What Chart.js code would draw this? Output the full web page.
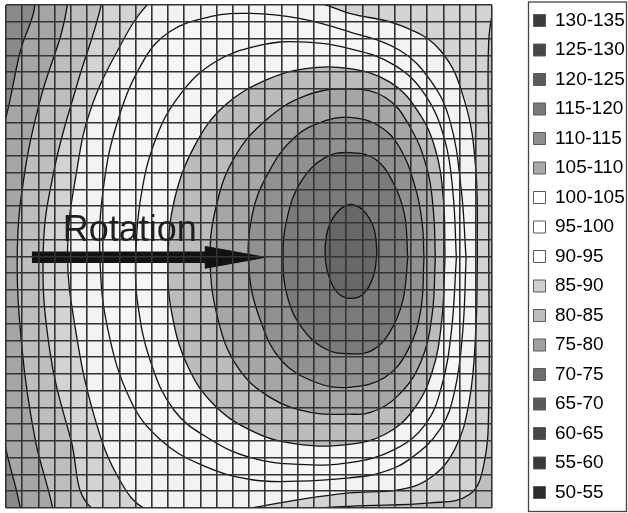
<!DOCTYPE html>
<html>
<head>
<meta charset="utf-8">
<title>Rotation contour</title>
<script src="https://cdn.jsdelivr.net/npm/chart.js@4.4.1/dist/chart.umd.min.js"></script>
<style>
  html, body { margin: 0; padding: 0; background: #fff; }
  canvas { display: block; }
</style>
</head>
<body>
<canvas id="contourChart" width="628" height="513"></canvas>
<script>
// legend classes, top to bottom
const levels = ["130-135", "125-130", "120-125", "115-120", "110-115", "105-110", "100-105",
    "95-100", "90-95", "85-90", "80-85", "75-80", "70-75", "65-70", "60-65", "55-60", "50-55"];
const levelColors = ["#3c3c3c", "#474747", "#5a5a5a", "#7a7a7a", "#8f8f8f", "#a8a8a8", "#ffffff",
    "#ffffff", "#ffffff", "#cfcfcf", "#bdbdbd", "#a0a0a0", "#6e6e6e", "#585858", "#474747", "#383838", "#2c2c2c"];

// contour lines, [x, y] in grid cells (x to the right, y downwards)
const c125 = [[22.9, 14.7], [22.7, 13.3], [22.1, 12.3], [21.3, 11.9], [20.5, 12.3], [19.9, 13.3], [19.7, 14.7],
    [19.9, 16.1], [20.5, 17.2], [21.3, 17.5], [22.1, 17.2], [22.7, 16.1]];
const c120 = [[24.8, 15.1], [24.5, 17.6], [23.7, 19.5], [22.6, 20.6], [21.2, 20.8], [19.7, 20.5], [18.3, 19.3],
    [17.4, 17.5], [17.1, 15.1], [17.4, 12.5], [18.3, 10.4], [19.7, 9.1], [21.2, 8.8], [22.8, 9.2], [23.9, 10.6], [24.6, 12.5]];
const c115 = [[25.8, 15.1], [25.6, 18.2], [24.8, 20.6], [23.4, 22.2], [21.2, 22.8], [19.1, 22.5], [17.0, 21.2],
    [15.7, 18.8], [15.0, 15.8], [15.2, 12.5], [16.2, 10.0], [17.8, 7.9], [19.7, 6.9], [21.2, 6.7], [23.0, 7.2],
    [24.3, 8.5], [25.3, 11.0], [25.7, 13.1]];
const c110 = [[26.5, 15.1], [26.3, 18.5], [25.6, 21.3], [24.2, 23.3], [22.5, 24.3], [21.2, 24.4], [18.8, 24.3],
    [16.3, 23.4], [14.3, 21.6], [13.1, 18.8], [12.6, 15.1], [13.0, 11.9], [14.1, 9.1], [16.0, 6.9], [18.5, 5.4],
    [21.2, 5.0], [23.4, 5.5], [24.9, 7.2], [26.0, 9.8], [26.4, 12.5]];
const c105 = [[27.1, 15.1], [26.9, 18.8], [26.3, 21.9], [25.1, 24.2], [23.4, 25.6], [21.2, 26.2], [18.1, 26.2],
    [15.4, 25.5], [12.9, 23.9], [11.2, 21.5], [10.2, 18.2], [10.0, 15.1], [10.4, 11.6], [11.7, 8.3], [13.5, 6.0],
    [16.0, 4.5], [18.5, 3.8], [21.2, 3.8], [23.7, 4.6], [25.4, 6.3], [26.5, 8.6], [27.0, 11.6]];
const c100 = [[27.8, 15.1], [27.5, 19.4], [26.9, 22.7], [25.9, 25.0], [24.0, 26.5], [21.2, 27.3], [18.1, 27.4],
    [15.1, 27.0], [12.6, 25.9], [10.4, 24.2], [8.9, 21.2], [8.1, 17.6], [8.0, 15.1], [8.3, 11.6], [9.2, 8.1],
    [10.7, 5.4], [12.9, 3.4], [15.7, 2.4], [18.1, 2.2], [21.2, 2.6], [24.0, 3.6], [25.9, 5.4], [27.1, 8.1], [27.6, 11.3]];
const c95 = [[28.4, 15.1], [28.2, 19.4], [27.7, 23.0], [26.8, 25.3], [24.9, 27.1], [23.1, 27.9], [21.2, 28.2],
    [18.1, 28.4], [15.1, 28.3], [12.0, 27.4], [9.5, 25.9], [7.7, 23.6], [6.3, 19.4], [5.8, 15.1], [6.0, 11.0],
    [6.9, 6.9], [8.5, 3.3], [10.1, 1.6], [12.6, 0.7], [15.1, 0.5], [18.1, 0.8], [21.2, 1.6], [24.3, 2.7],
    [26.2, 4.5], [27.4, 6.9], [28.1, 11.0]];
const c90 = [[29.1, 15.1], [29.0, 19.4], [28.6, 23.6], [27.7, 26.5], [26.2, 28.2], [24.3, 28.9], [21.2, 29.1],
    [18.1, 29.5], [15.1, 30.0], [12.0, 30.5], [8.7, 30.1], [7.0, 28.3], [5.5, 24.7], [4.3, 19.4], [3.8, 14.6],
    [4.4, 9.7], [5.2, 6.3], [6.9, 2.7], [8.8, -0.1], [10.7, -1.2], [15.1, -1.0], [19.4, -0.1], [21.2, 0.5],
    [24.3, 1.2], [26.8, 2.7], [28.3, 5.7], [29.0, 9.8]];
const c85 = [[29.8, 15.1], [29.8, 23.6], [29.5, 27.4], [28.6, 29.2], [26.2, 29.7], [21.2, 29.9], [18.1, 30.2],
    [12.0, 31.9], [5.4, 30.1], [4.0, 25.9], [2.7, 20.6], [2.3, 14.6], [3.0, 9.7], [4.4, 4.7], [5.9, -0.1],
    [6.4, -3.9], [30.5, -3.9], [30.2, -0.6], [29.8, 2.1], [29.8, 8.6]];
const c80 = [[3.3, 33.1], [42.8, 33.1], [42.8, -6.3], [3.8, -6.3], [3.8, -0.1], [2.1, 5.7], [1.2, 9.7],
    [0.7, 14.6], [1.0, 20.6], [1.8, 25.9], [2.9, 30.1]];
const c75 = [[1.2, 33.1], [44.1, 33.1], [44.1, -6.3], [1.8, -6.3], [1.8, -0.1], [0.9, 2.7], [0.1, 6.3],
    [-0.7, 9.2], [-1.6, 14.6], [-0.7, 23.0], [0.0, 26.5], [0.9, 30.1]];
const c70 = [[-3, -3], [33, -3], [33, 33], [-3, 33]];

const contourLevels = [125, 120, 115, 110, 105, 100, 95, 90, 85, 80, 75, 70];
const contourLines = [c125, c120, c115, c110, c105, c100, c95, c90, c85, c80, c75, c70];
const bandColors = ["#686868", "#7b7b7b", "#919191", "#a6a6a6", "#bcbcbc", "#f4f4f4",
    "#f6f6f6", "#f3f3f3", "#d3d3d3", "#bebebe", "#a6a6a6", "#8a8a8a"];

// annotation arrow
const arrowShaft = [[1.6, 15.05], [12.6, 15.05]];
const arrowHead = [[12.3, 14.4], [16.0, 15.05], [12.3, 15.7]];
const arrowLabel = { text: "Rotation", x: 3.5, y: 14.1 };

function toPoints(list, closed) {
    const pts = list.map(p => ({ x: p[0], y: p[1] }));
    if (closed) pts.push({ x: list[0][0], y: list[0][1] });
    return pts;
}

const datasets = [
    { label: "arrow", data: toPoints(arrowShaft, false), borderColor: "#111", borderWidth: 11.5, fill: false, tension: 0 },
    { label: "arrowhead", data: toPoints(arrowHead, true), borderColor: "#111", borderWidth: 1, backgroundColor: "#111", fill: "shape", tension: 0 }
];
contourLevels.forEach((level, i) => {
    datasets.push({
        label: String(level),
        data: toPoints(contourLines[i], true),
        borderColor: level === 70 ? "rgba(0,0,0,0)" : "#111",
        borderWidth: 1.3,
        backgroundColor: bandColors[i],
        fill: "shape",
        tension: 0.4
    });
});

const rotationLabel = {
    id: "rotationLabel",
    afterDraw(chart) {
        const { ctx, scales } = chart;
        ctx.save();
        ctx.font = "36px 'Liberation Sans', Arial, sans-serif";
        ctx.fillStyle = "#1e1e1e";
        ctx.textBaseline = "alphabetic";
        ctx.fillText(arrowLabel.text, scales.x.getPixelForValue(arrowLabel.x), scales.y.getPixelForValue(arrowLabel.y));
        ctx.restore();
    }
};

// frame round the legend
const legendFrame = {
    id: "legendFrame",
    afterDraw(chart) {
        const l = chart.legend;
        const ctx = chart.ctx;
        const left = l.left + 5.5;
        ctx.save();
        ctx.strokeStyle = "#444";
        ctx.lineWidth = 1.3;
        ctx.strokeRect(left, 2, chart.width - 1.5 - left, chart.height - 3.5);
        ctx.restore();
    }
};

const gridColor = "#333";

new Chart(document.getElementById("contourChart").getContext("2d"), {
    type: "line",
    data: { datasets: datasets },
    options: {
        responsive: false,
        animation: false,
        layout: { padding: { left: 6 } },
        elements: { point: { radius: 0 }, line: { capBezierPoints: false } },
        plugins: {
            tooltip: { enabled: false },
            legend: {
                position: "right",
                maxWidth: 105,
                labels: {
                    boxWidth: 12,
                    boxHeight: 12,
                    padding: 10.5,
                    color: "#1a1a1a",
                    font: { family: "'Liberation Sans', Arial, sans-serif", size: 19 },
                    generateLabels: () => levels.map((t, i) => ({
                        text: t, fillStyle: levelColors[i], strokeStyle: "#5a5a5a", lineWidth: 1, hidden: false
                    }))
                }
            }
        },
        scales: {
            x: {
                type: "linear", min: 0, max: 30,
                ticks: { display: false, stepSize: 1 },
                grid: { color: gridColor, lineWidth: 1.6, drawTicks: false, z: 1 },
                border: { display: false },
                afterFit: s => { s.height = 5; }
            },
            xTop: {
                type: "linear", axis: "x", position: "top", min: 0, max: 30,
                ticks: { display: false },
                grid: { display: false },
                border: { display: false },
                afterFit: s => { s.height = 5; }
            },
            y: {
                type: "linear", position: "right", reverse: true, min: 0, max: 30,
                ticks: { display: false, stepSize: 1 },
                grid: { color: gridColor, lineWidth: 1.6, drawTicks: false, z: 1 },
                border: { display: false },
                afterFit: s => { s.width = 31; }
            }
        }
    },
    plugins: [rotationLabel, legendFrame]
});
</script>
</body>
</html>
